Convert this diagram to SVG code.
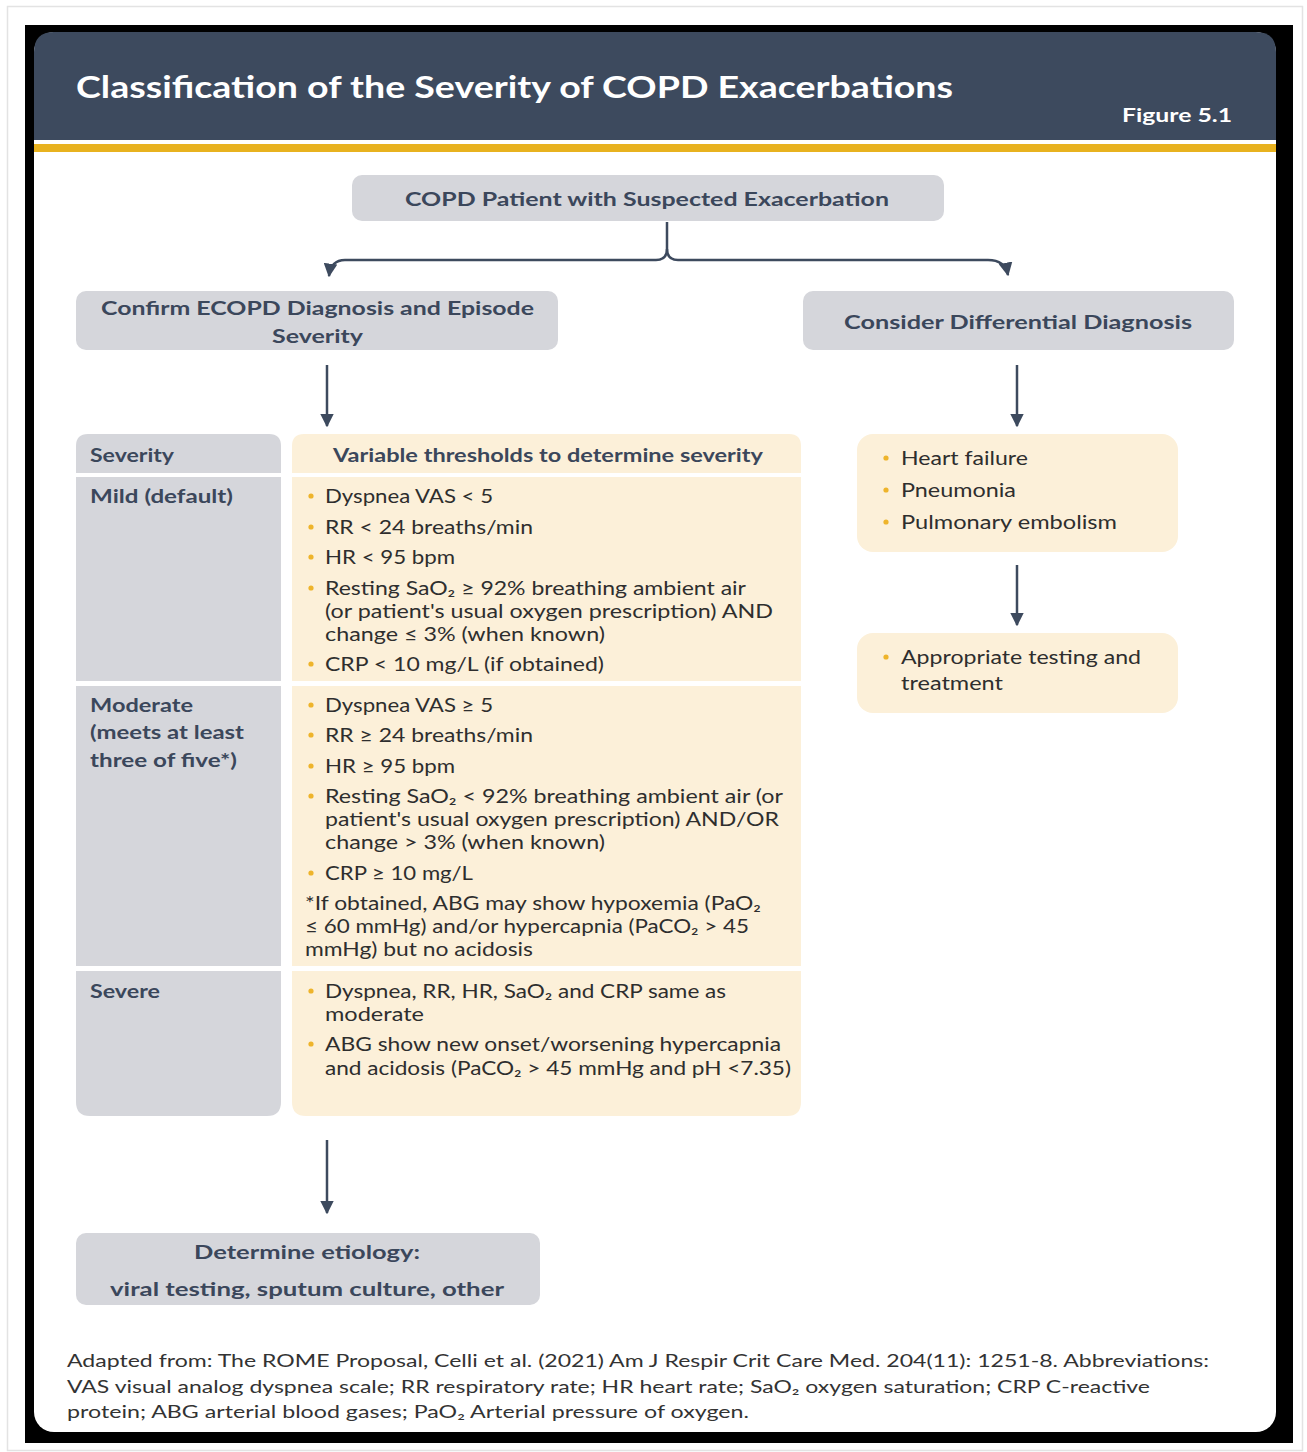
<svg xmlns="http://www.w3.org/2000/svg" width="1307" height="1452" viewBox="0 0 1307 1452">
<style>
text{font-family:Lato,"Open Sans","Liberation Sans",sans-serif}
.lbl{font-weight:700;fill:#3b475b}
.body{font-size:18.5px;fill:#2e2e2e}
.gray{fill:#d5d6db}
.beige{fill:#fcf0d9}
.conn{fill:none;stroke:#3d4a5e;stroke-width:2.5}
.dot{fill:#eeb42b}
.foot{font-size:17.5px;fill:#333333}
</style>
<defs>
<marker id="ah" viewBox="0 0 10 10" refX="9" refY="5" markerWidth="5.5" markerHeight="5.5" orient="auto" markerUnits="strokeWidth">
<path d="M0,0 L10,5 L0,10 z" fill="#3d4a5e"/>
</marker>
</defs>
<rect x="0" y="0" width="1307" height="1452" fill="#ffffff"/>
<rect x="7.5" y="6.5" width="1295" height="1444" fill="none" stroke="#e3e3e3" stroke-width="1.5"/>
<g id="frame">
<rect x="25" y="25" width="1268" height="1418" fill="#000000"/>
<rect x="34" y="32" width="1242" height="1400" rx="20" fill="#ffffff"/>
<path d="M34,140 V52 Q34,32 54,32 H1256 Q1276,32 1276,52 V140 Z" fill="#3d4a5e"/>
<rect x="34" y="144" width="1242" height="8" fill="#e8b21f"/>
<text x="76" y="98" font-weight="700" font-size="29.5" fill="#ffffff" textLength="877" lengthAdjust="spacingAndGlyphs">Classification of the Severity of COPD Exacerbations</text>
<text x="1122" y="122" font-weight="700" font-size="19" fill="#ffffff" textLength="110" lengthAdjust="spacingAndGlyphs">Figure 5.1</text>
</g>
<g id="connectors">
<path class="conn" d="M667,222 V249 Q667,260 656,260 H345 Q331,260 329,276" marker-end="url(#ah)"/>
<path class="conn" d="M667,249 Q667,260 678,260 H988 Q1005,260 1008,275" marker-end="url(#ah)"/>
<line class="conn" x1="327" y1="365" x2="327" y2="426" marker-end="url(#ah)"/>
<line class="conn" x1="1017" y1="365" x2="1017" y2="426" marker-end="url(#ah)"/>
<line class="conn" x1="1017" y1="565" x2="1017" y2="625" marker-end="url(#ah)"/>
<line class="conn" x1="327" y1="1140" x2="327" y2="1213" marker-end="url(#ah)"/>
</g>
<g id="start">
<rect class="gray" x="352" y="175" width="592" height="46" rx="10"/>
<text class="lbl" x="405" y="206" font-size="19.5" textLength="484" lengthAdjust="spacingAndGlyphs">COPD Patient with Suspected Exacerbation</text>
</g>
<g id="confirm">
<rect class="gray" x="76" y="291" width="482" height="59" rx="10"/>
<text class="lbl" x="101" y="315" font-size="19.5" textLength="433" lengthAdjust="spacingAndGlyphs">Confirm ECOPD Diagnosis and Episode</text>
<text class="lbl" x="272" y="343" font-size="19.5" textLength="91" lengthAdjust="spacingAndGlyphs">Severity</text>
</g>
<g id="differential">
<rect class="gray" x="803" y="291" width="431" height="59" rx="10"/>
<text class="lbl" x="844" y="329" font-size="19.5" textLength="348" lengthAdjust="spacingAndGlyphs">Consider Differential Diagnosis</text>
</g>
<g id="table">
<path class="gray" d="M76,473 V446 Q76,434 88,434 H269 Q281,434 281,446 V473 Z"/>
<path class="beige" d="M292,473 V446 Q292,434 304,434 H789 Q801,434 801,446 V473 Z"/>
<text class="lbl" x="90" y="462" font-size="18" textLength="84" lengthAdjust="spacingAndGlyphs">Severity</text>
<text class="lbl" x="333" y="462" font-size="18" textLength="430" lengthAdjust="spacingAndGlyphs">Variable thresholds to determine severity</text>
<rect class="gray" x="76" y="477" width="205" height="204"/>
<rect class="beige" x="292" y="477" width="509" height="204"/>
<rect class="gray" x="76" y="686" width="205" height="280"/>
<rect class="beige" x="292" y="686" width="509" height="280"/>
<path class="gray" d="M76,971 H281 V1102 Q281,1116 267,1116 H90 Q76,1116 76,1102 Z"/>
<path class="beige" d="M292,971 H801 V1102 Q801,1116 787,1116 H306 Q292,1116 292,1102 Z"/>
<text class="lbl" x="90" y="503" font-size="18" textLength="143" lengthAdjust="spacingAndGlyphs">Mild (default)</text>
<text class="lbl" x="90" y="712" font-size="18" textLength="103" lengthAdjust="spacingAndGlyphs">Moderate</text>
<text class="lbl" x="90" y="739" font-size="18" textLength="154" lengthAdjust="spacingAndGlyphs">(meets at least</text>
<text class="lbl" x="90" y="767" font-size="18" textLength="147" lengthAdjust="spacingAndGlyphs">three of five*)</text>
<text class="lbl" x="90" y="998" font-size="18" textLength="70" lengthAdjust="spacingAndGlyphs">Severe</text>
<g class="dot">
<circle cx="311" cy="496" r="2.6"/><circle cx="311" cy="527" r="2.6"/><circle cx="311" cy="557" r="2.6"/><circle cx="311" cy="588" r="2.6"/><circle cx="311" cy="664" r="2.6"/>
<circle cx="311" cy="705" r="2.6"/><circle cx="311" cy="735" r="2.6"/><circle cx="311" cy="766" r="2.6"/><circle cx="311" cy="796" r="2.6"/><circle cx="311" cy="873" r="2.6"/>
<circle cx="311" cy="991" r="2.6"/><circle cx="311" cy="1044" r="2.6"/>
</g>
<text class="body" x="325" y="503" textLength="168" lengthAdjust="spacingAndGlyphs">Dyspnea VAS &lt; 5</text>
<text class="body" x="325" y="534" textLength="208" lengthAdjust="spacingAndGlyphs">RR &lt; 24 breaths/min</text>
<text class="body" x="325" y="564" textLength="130" lengthAdjust="spacingAndGlyphs">HR &lt; 95 bpm</text>
<text class="body" x="325" y="595" textLength="421" lengthAdjust="spacingAndGlyphs">Resting SaO₂ ≥ 92% breathing ambient air</text>
<text class="body" x="325" y="618" textLength="448" lengthAdjust="spacingAndGlyphs">(or patient's usual oxygen prescription) AND</text>
<text class="body" x="325" y="641" textLength="280" lengthAdjust="spacingAndGlyphs">change ≤ 3% (when known)</text>
<text class="body" x="325" y="671" textLength="279" lengthAdjust="spacingAndGlyphs">CRP &lt; 10 mg/L (if obtained)</text>
<text class="body" x="325" y="712" textLength="168" lengthAdjust="spacingAndGlyphs">Dyspnea VAS ≥ 5</text>
<text class="body" x="325" y="742" textLength="208" lengthAdjust="spacingAndGlyphs">RR ≥ 24 breaths/min</text>
<text class="body" x="325" y="773" textLength="130" lengthAdjust="spacingAndGlyphs">HR ≥ 95 bpm</text>
<text class="body" x="325" y="803" textLength="458" lengthAdjust="spacingAndGlyphs">Resting SaO₂ &lt; 92% breathing ambient air (or</text>
<text class="body" x="325" y="826" textLength="454" lengthAdjust="spacingAndGlyphs">patient's usual oxygen prescription) AND/OR</text>
<text class="body" x="325" y="849" textLength="280" lengthAdjust="spacingAndGlyphs">change &gt; 3% (when known)</text>
<text class="body" x="325" y="880" textLength="148" lengthAdjust="spacingAndGlyphs">CRP ≥ 10 mg/L</text>
<text class="body" x="305" y="910" textLength="456" lengthAdjust="spacingAndGlyphs">*If obtained, ABG may show hypoxemia (PaO₂</text>
<text class="body" x="305" y="933" textLength="444" lengthAdjust="spacingAndGlyphs">≤ 60 mmHg) and/or hypercapnia (PaCO₂ &gt; 45</text>
<text class="body" x="305" y="956" textLength="228" lengthAdjust="spacingAndGlyphs">mmHg) but no acidosis</text>
<text class="body" x="325" y="998" textLength="401" lengthAdjust="spacingAndGlyphs">Dyspnea, RR, HR, SaO₂ and CRP same as</text>
<text class="body" x="325" y="1021" textLength="99" lengthAdjust="spacingAndGlyphs">moderate</text>
<text class="body" x="325" y="1051" textLength="456" lengthAdjust="spacingAndGlyphs">ABG show new onset/worsening hypercapnia</text>
<text class="body" x="325" y="1075" textLength="466" lengthAdjust="spacingAndGlyphs">and acidosis (PaCO₂ &gt; 45 mmHg and pH &lt;7.35)</text>
</g>
<g id="diff-list">
<rect class="beige" x="857" y="434" width="321" height="118" rx="16"/>
<g class="dot"><circle cx="886" cy="458" r="2.6"/><circle cx="886" cy="490" r="2.6"/><circle cx="886" cy="522" r="2.6"/></g>
<text class="body" x="901" y="465" font-size="19.5" textLength="127" lengthAdjust="spacingAndGlyphs">Heart failure</text>
<text class="body" x="901" y="497" font-size="19.5" textLength="115" lengthAdjust="spacingAndGlyphs">Pneumonia</text>
<text class="body" x="901" y="529" font-size="19.5" textLength="216" lengthAdjust="spacingAndGlyphs">Pulmonary embolism</text>
</g>
<g id="testing">
<rect class="beige" x="857" y="633" width="321" height="80" rx="16"/>
<circle class="dot" cx="886" cy="657" r="2.6"/>
<text class="body" x="901" y="664" font-size="19.5" textLength="240" lengthAdjust="spacingAndGlyphs">Appropriate testing and</text>
<text class="body" x="901" y="690" font-size="19.5" textLength="102" lengthAdjust="spacingAndGlyphs">treatment</text>
</g>
<g id="etiology">
<rect class="gray" x="76" y="1233" width="464" height="72" rx="10"/>
<text class="lbl" x="194" y="1259" font-size="19.5" textLength="226" lengthAdjust="spacingAndGlyphs">Determine etiology:</text>
<text class="lbl" x="110" y="1296" font-size="19.5" textLength="394" lengthAdjust="spacingAndGlyphs">viral testing, sputum culture, other</text>
</g>
<g id="footer">
<text class="foot" x="67" y="1367" textLength="1142" lengthAdjust="spacingAndGlyphs">Adapted from: The ROME Proposal, Celli et al. (2021) Am J Respir Crit Care Med. 204(11): 1251-8. Abbreviations:</text>
<text class="foot" x="67" y="1393" textLength="1083" lengthAdjust="spacingAndGlyphs">VAS visual analog dyspnea scale; RR respiratory rate; HR heart rate; SaO₂ oxygen saturation; CRP C-reactive</text>
<text class="foot" x="67" y="1418" textLength="682" lengthAdjust="spacingAndGlyphs">protein; ABG arterial blood gases; PaO₂ Arterial pressure of oxygen.</text>
</g>
</svg>
